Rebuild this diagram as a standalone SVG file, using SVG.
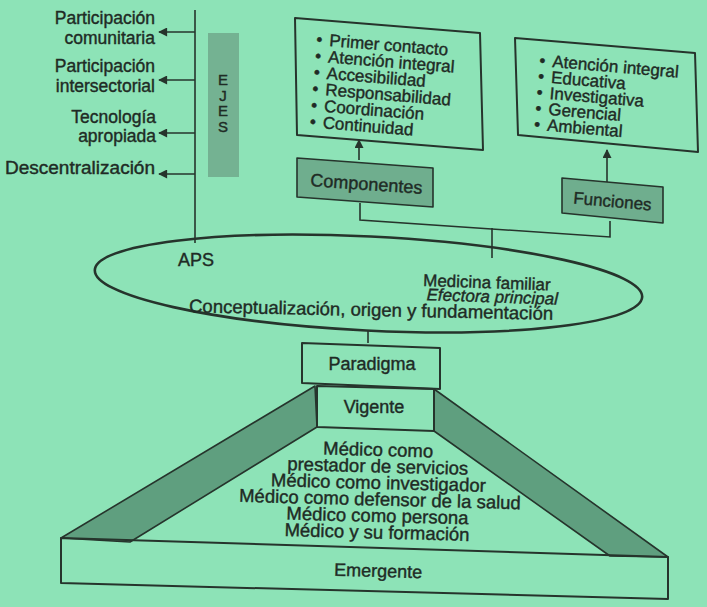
<svg xmlns="http://www.w3.org/2000/svg" width="707" height="607" viewBox="0 0 707 607">
<defs>
<style>
.t{font-family:"Liberation Sans",Arial,sans-serif;fill:#1f2b25;stroke:#1f2b25;stroke-width:0.4;}
.box{fill:none;stroke:#26342c;stroke-width:2;stroke-linejoin:round;}
.gbox{fill:#6fae8e;stroke:#26342c;stroke-width:1.6;stroke-linejoin:round;}
.band{fill:#5f9f7f;stroke:#26342c;stroke-width:1.6;stroke-linejoin:round;}
.ln{fill:none;stroke:#26342c;stroke-width:1.6;}
</style>
<marker id="ah" viewBox="0 0 10 10" refX="9" refY="5" markerWidth="10" markerHeight="9" markerUnits="userSpaceOnUse" orient="auto">
<path d="M0,0 L10,5 L0,10 z" fill="#26342c"/>
</marker>
</defs>
<rect width="707" height="607" fill="#8de3b7"/>

<g id="connectors">
<line class="ln" x1="195" y1="10" x2="195" y2="243"/>
<line class="ln" x1="195" y1="32" x2="159" y2="32" marker-end="url(#ah)"/>
<line class="ln" x1="195" y1="80" x2="159" y2="80" marker-end="url(#ah)"/>
<line class="ln" x1="195" y1="133" x2="159" y2="133" marker-end="url(#ah)"/>
<line class="ln" x1="195" y1="174" x2="159" y2="174" marker-end="url(#ah)"/>
<line class="ln" x1="359" y1="160" x2="359" y2="140" marker-end="url(#ah)"/>
<line class="ln" x1="607" y1="182" x2="607" y2="150" marker-end="url(#ah)"/>
<polyline class="ln" points="360,203 360,220 610,237 610,221"/>
<line class="ln" x1="492" y1="228" x2="492" y2="258"/>
<line class="ln" x1="368" y1="331" x2="368" y2="343"/>
</g>

<g id="ejes">
<rect x="208" y="33" width="31" height="144" fill="#74b292"/>
<text class="t" font-size="15" text-anchor="middle"><tspan x="223" y="85">E</tspan><tspan x="223" y="100.5">J</tspan><tspan x="223" y="116">E</tspan><tspan x="223" y="131.5">S</tspan></text>
</g>

<g id="labels-left" class="t" font-size="17.5" text-anchor="end">
<text><tspan x="155" y="24">Participación</tspan><tspan x="155" y="43.5">comunitaria</tspan></text>
<text><tspan x="155" y="72">Participación</tspan><tspan x="155" y="91.5">intersectorial</tspan></text>
<text><tspan x="156" y="123">Tecnología</tspan><tspan x="156" y="142">apropiada</tspan></text>
<text x="155" y="174" textLength="150" lengthAdjust="spacingAndGlyphs">Descentralización</text>
</g>

<g id="componentes-list">
<polygon class="box" points="295,18 480,33 483,150 297,135"/>
<g class="t" font-size="17" transform="rotate(4.6 329 46)">
<text x="316" y="46">•</text><text x="329" y="46">Primer contacto</text>
<text x="316" y="62.5">•</text><text x="329" y="62.5">Atención integral</text>
<text x="316" y="79">•</text><text x="329" y="79">Accesibilidad</text>
<text x="316" y="95.5">•</text><text x="329" y="95.5">Responsabilidad</text>
<text x="316" y="112">•</text><text x="329" y="112">Coordinación</text>
<text x="316" y="128.5">•</text><text x="329" y="128.5">Continuidad</text>
</g>
</g>

<g id="funciones-list">
<polygon class="box" points="515,38 695,53 698,152 518,135"/>
<g class="t" font-size="17" transform="rotate(4.8 552 67)">
<text x="539" y="67">•</text><text x="552" y="67">Atención integral</text>
<text x="539" y="83">•</text><text x="552" y="83">Educativa</text>
<text x="539" y="99">•</text><text x="552" y="99">Investigativa</text>
<text x="539" y="115">•</text><text x="552" y="115">Gerencial</text>
<text x="539" y="131">•</text><text x="552" y="131">Ambiental</text>
</g>
</g>

<g id="componentes">
<polygon class="gbox" points="297,158 433,168 433,207 297,197"/>
<text class="t" font-size="18" text-anchor="middle" x="366" y="190" transform="rotate(4 366 190)">Componentes</text>
</g>

<g id="funciones">
<polygon class="gbox" points="562,178 663,187 663,223 562,213"/>
<text class="t" font-size="17" text-anchor="middle" x="612" y="207" transform="rotate(5 612 207)">Funciones</text>
</g>

<g id="ellipse">
<ellipse cx="368.5" cy="283.5" rx="274" ry="47" transform="rotate(2.83 368.5 283.5)" fill="none" stroke="#26342c" stroke-width="2.6"/>
<text class="t" font-size="18" x="178" y="266">APS</text>
<g class="t" font-size="17" transform="rotate(2 423 286)">
<text x="423" y="286">Medicina familiar</text>
<text x="427" y="300" font-style="italic">Efectora principal</text>
</g>
<text class="t" font-size="18.5" text-anchor="middle" x="371" y="316" transform="rotate(1.2 371 316)">Conceptualización, origen y fundamentación</text>
</g>

<g id="bands">
<polygon class="band" points="315,386 61,538 130,542 317,427"/>
<polygon class="band" points="434,389 668,557 610,556 434,431"/>
</g>

<g id="paradigma">
<polygon class="box" points="302,343 440,348 440,389 302,383"/>
<text class="t" font-size="18" text-anchor="middle" x="372" y="370">Paradigma</text>
</g>

<g id="vigente">
<polygon class="box" points="317,386 434,389 434,431 317,427"/>
<text class="t" font-size="18" text-anchor="middle" x="374" y="413">Vigente</text>
</g>

<g id="medico" class="t" font-size="18.5" text-anchor="middle" transform="rotate(1.5 378 497)">
<text x="377" y="456">Médico como</text>
<text x="377" y="472.5">prestador de servicios</text>
<text x="378" y="489">Médico como investigador</text>
<text x="380" y="505.5">Médico como defensor de la salud</text>
<text x="378" y="522">Médico como persona</text>
<text x="378" y="538.5">Médico y su formación</text>
</g>

<g id="emergente">
<polygon class="box" points="61,538 668,557 668,599 61,583"/>
<text class="t" font-size="18" text-anchor="middle" x="378" y="577" transform="rotate(1.7 378 577)">Emergente</text>
</g>
</svg>
